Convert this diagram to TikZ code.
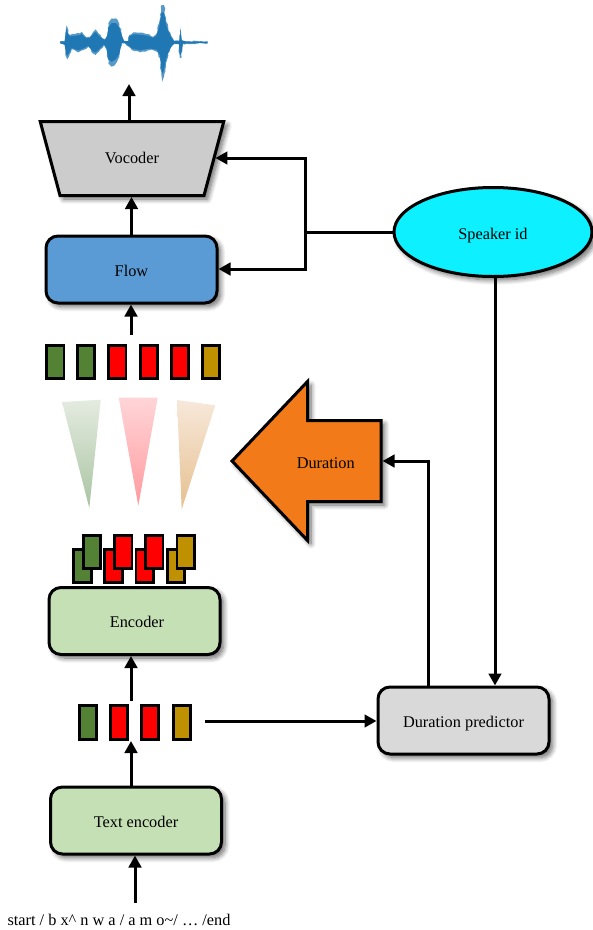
\documentclass[tikz,border=0pt]{standalone}
\usepackage{fontspec}
\setmainfont{Liberation Serif}
\usetikzlibrary{arrows.meta,shapes.geometric,shapes.arrows,shadows.blur,decorations.pathmorphing}
\definecolor{tokgreen}{HTML}{548235}
\definecolor{tokred}{HTML}{FF0000}
\definecolor{tokgold}{HTML}{BF9000}
\definecolor{boxgreen}{HTML}{C5E0B4}
\definecolor{boxblue}{HTML}{5B9BD5}
\definecolor{boxgray}{HTML}{D9D9D9}
\definecolor{wavblue}{HTML}{1F77B4}
\newcommand{\wavepath}{(90,124)--(104,124)--(106,100)--(110,76)--(114,95)--(120,105)--(135,102)--(150,100)--(155,95)--(162,105)--(170,112)--(180,110)--(190,95)--(197,88)--(205,100)--(215,112)--(225,118)--(232,100)--(235,70)--(245,55)--(258,55)--(268,72)--(275,100)--(282,122)--(295,122)--(298,105)--(310,97)--(330,98)--(350,102)--(370,110)--(380,100)--(388,65)--(395,15)--(402,15)--(408,60)--(415,85)--(425,110)--(432,122)--(448,122)--(452,80)--(455,120)--(470,124)--(533,124)
 --(533,130)--(470,131)--(458,132)--(453,175)--(449,172)--(447,133)--(432,132)--(425,140)--(415,165)--(408,190)--(402,230)--(398,247)--(394,225)--(390,175)--(380,155)--(360,150)--(330,157)--(305,150)--(296,140)--(285,130)--(275,130)--(268,170)--(258,190)--(245,200)--(235,190)--(230,150)--(222,135)--(210,150)--(197,165)--(188,160)--(175,140)--(160,150)--(145,157)--(125,148)--(112,178)--(108,170)--(104,135)--(90,130)--cycle}
\begin{document}
\begin{tikzpicture}[x=1pt,y=-1pt,font=\fontsize{16.3}{19}\selectfont,
  softshadow/.style={blur shadow={shadow xshift=3.5pt,shadow yshift=-3.5pt,shadow blur steps=8,shadow blur radius=5pt,shadow opacity=60}},
  blockbox/.style={draw,line width=3pt,rounded corners=12pt,minimum width=171pt,minimum height=67pt,text height=17pt,text depth=3.5pt,softshadow},
  token/.style={draw,line width=2.8pt,minimum width=17.5pt,minimum height=33.5pt,inner sep=0pt},
  link/.style={line width=3pt,-{Triangle[length=12pt,width=12.5pt]}}]
\useasboundingbox (0,0) rectangle (593,930);
% waveform
\begin{scope}[shift={(30,0)},scale=1/3]
\fill[wavblue!75!white,decorate,decoration={random steps,segment length=2.5pt,amplitude=.8pt}] \wavepath;
\fill[wavblue,shift={(0,127)},yscale=.8,shift={(0,-127)}] \wavepath;
\end{scope}
% blocks
\node[draw,line width=3pt,fill=gray!40!white,trapezium,shape border rotate=180,trapezium stretches=true,trapezium angle=67,minimum width=184pt,minimum height=74pt,text height=11pt,text depth=2pt,softshadow] (vocoder) at (132,158.5) {Vocoder};
\node[blockbox,fill=boxblue] (flow) at (131.5,269.5) {Flow};
\node[blockbox,fill=boxgreen] (encoder) at (134.5,621) {\hspace*{5pt}Encoder};
\node[blockbox,fill=boxgreen] (textenc) at (136,820.5) {Text encoder};
\node[blockbox,fill=boxgray] (predictor) at (463.5,720.5) {Duration predictor};
\node[draw,line width=3pt,ellipse,minimum width=198pt,minimum height=89pt,inner sep=0pt,text height=19pt,text depth=3.5pt,softshadow,fill={rgb,255:red,13;green,240;blue,255}] (speaker) at (493,232) {Speaker id};
\node[draw,line width=3pt,fill={rgb,255:red,242;green,122;blue,24},single arrow,shape border rotate=180,single arrow head extend=39pt,single arrow tip angle=93,minimum height=149pt,inner sep=0pt,text height=46pt,text depth=32pt,softshadow,anchor=tip] (duration) at (230,461) {Duration};
% tokens
\foreach \x/\c [count=\i] in {55.3/tokgreen,86/tokgreen,117.3/tokred,149/tokred,180/tokred,211/tokgold}
  \node[token,fill=\c] (top\i) at (\x,362) {};
\foreach \x/\c [count=\i] in {82.5/tokgreen,113.5/tokred,144.7/tokred,176/tokgold}
  \node[token,fill=\c] (back\i) at (\x,566) {};
\foreach \x/\c [count=\i] in {92/tokgreen,123.3/tokred,154.3/tokred,185.7/tokgold}
  \node[token,fill=\c] (front\i) at (\x,552) {};
\foreach \x/\c [count=\i] in {88/tokgreen,119/tokred,150/tokred,182/tokgold}
  \node[token,fill=\c] (low\i) at (\x,722.5) {};
% cones
\shade[top color={rgb,255:red,228;green,235;blue,224},bottom color={rgb,255:red,169;green,196;blue,162}] (62,402)--(100.7,399.7)--(89.3,508)--cycle;
\shade[top color={rgb,255:red,255;green,213;blue,216},bottom color={rgb,255:red,255;green,154;blue,158}] (118.7,397.7)--(157.7,397.7)--(138.3,505.7)--cycle;
\shade[top color={rgb,255:red,247;green,232;blue,218},bottom color={rgb,255:red,230;green,192;blue,143}] (177,400)--(215.3,405.3)--(181.7,509.3)--cycle;
% text
\node[inner sep=0pt] (input) at (119,920) {start / b x\^{} n w a / a m o\textasciitilde/ … /end};
% free ends
\coordinate (wavefoot) at (129,84);
\coordinate (topfoot) at (131,335);
\coordinate (lowhead) at (131,701);
\coordinate (lowfoot) at (131,741);
\coordinate (inputhead) at (135,903);
\coordinate (lowout) at (205,721);
\coordinate (spjoin) at (305,232);
% connectors
\draw[link] (vocoder.north -| wavefoot) -- (wavefoot);
\draw[link] (flow.north) -- (vocoder.south -| flow.north);
\draw[link] (topfoot) -- (flow.south -| topfoot);
\draw[link] (lowhead) -- (encoder.south -| lowhead);
\draw[link] (textenc.north -| lowfoot) -- (lowfoot);
\draw[link] (inputhead) -- (textenc.south -| inputhead);
\draw[link] (lowout) -- (predictor.west |- lowout);
\draw[link] (predictor.north -| 428,0) -- (428,461) -- (duration.tail);
\draw[line width=3pt] (speaker.west) -- (spjoin);
\draw[link] (spjoin) -- (305,158) -- (vocoder.east |- 0,158);
\draw[link] (spjoin) -- (305,269) -- (flow.east |- 0,269);
\draw[link] (speaker.south -| 495,0) -- (predictor.north -| 495,0);
\end{tikzpicture}
\end{document}
